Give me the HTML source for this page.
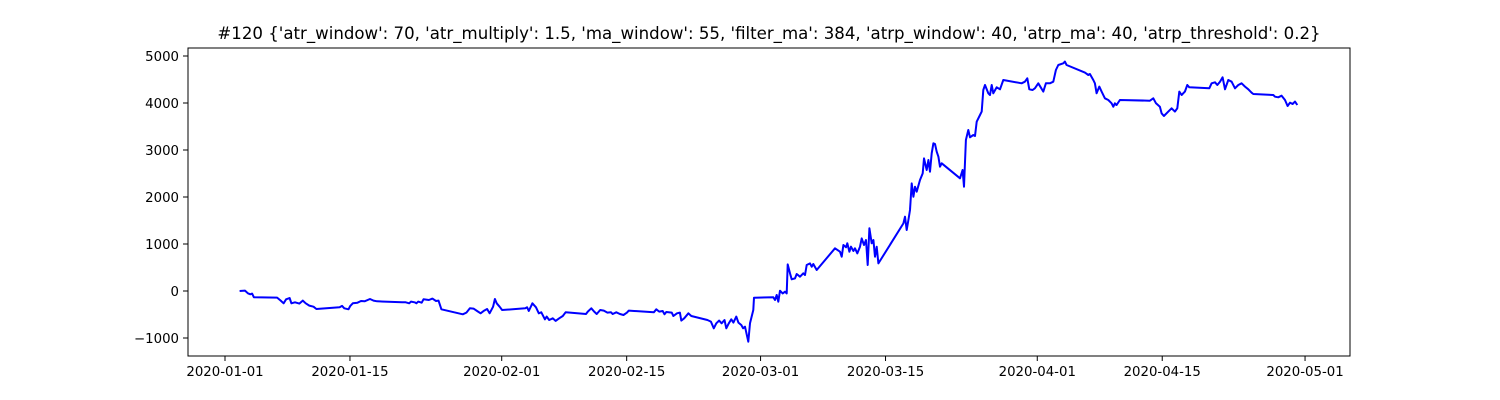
<!DOCTYPE html>
<html><head><meta charset="utf-8"><style>
html,body{margin:0;padding:0;background:#fff;}
svg{display:block;font-family:"DejaVu Sans","Liberation Sans",sans-serif;}
</style></head><body>
<svg id="chart" width="1500" height="400" viewBox="0 0 1500 400" xmlns="http://www.w3.org/2000/svg">
<rect x="0" y="0" width="1500" height="400" fill="#fff"/>
<text x="769" y="39" text-anchor="middle" font-size="16.6" fill="#000">#120 {'atr_window': 70, 'atr_multiply': 1.5, 'ma_window': 55, 'filter_ma': 384, 'atrp_window': 40, 'atrp_ma': 40, 'atrp_threshold': 0.2}</text>
<g id="plot"></g>
</svg>
<script>
const days = [1.64,2.24,2.56,2.84,3.04,3.24,5.84,6.24,6.56,6.84,7.24,7.44,7.84,8.32,8.72,9.04,9.44,9.92,10.24,12.84,13.12,13.36,13.84,14.04,14.32,14.84,15.24,15.64,16.24,16.64,17.04,19.84,20.24,20.64,20.84,21.24,21.44,21.64,22.04,22.24,22.84,23.24,23.64,23.92,24.24,26.64,27.04,27.44,27.84,28.24,28.64,29.04,29.36,29.64,30.04,30.24,30.44,30.76,31.04,33.64,33.84,34.04,34.44,34.84,35.16,35.44,35.84,36.04,36.32,36.72,37.04,37.44,37.84,38.16,40.44,40.64,41.04,41.36,41.64,42.04,42.44,42.84,43.24,43.44,43.84,44.24,44.64,45.04,45.24,48.04,48.32,48.64,49.04,49.24,49.44,50.04,50.24,50.64,50.96,51.12,51.44,51.92,52.24,54.04,54.44,54.76,55.04,55.36,55.64,55.96,56.16,56.44,56.72,56.96,57.28,57.52,57.84,58.04,58.26,58.63,58.82,59.19,59.27,61.43,61.62,61.81,61.99,62.18,62.48,62.74,62.93,63.04,63.30,63.49,63.86,64.05,64.42,64.79,64.98,65.17,65.54,65.73,65.91,66.29,68.34,68.90,69.09,69.28,69.57,69.72,69.95,70.13,70.40,70.58,70.84,71.14,71.33,71.59,71.81,72.00,72.19,72.45,72.64,72.82,73.01,73.20,76.00,76.18,76.37,76.56,76.74,76.93,77.12,77.30,77.49,77.86,78.16,78.31,78.61,78.80,78.98,79.17,79.36,79.54,79.73,79.92,80.10,80.29,82.34,82.64,82.79,83.01,83.27,83.46,83.83,84.02,84.21,84.58,84.77,84.95,85.14,85.51,85.70,85.89,86.07,86.45,86.82,87.19,89.25,89.62,89.88,90.11,90.48,90.74,91.12,91.38,91.68,91.97,92.42,92.80,93.09,93.36,93.92,94.10,94.29,96.34,96.72,96.90,97.28,97.46,97.65,97.95,98.21,98.58,98.96,99.33,99.52,99.70,99.89,100.26,103.62,104.00,104.30,104.74,104.93,105.19,105.68,106.05,106.42,106.69,106.91,107.17,107.54,107.81,108.03,110.27,110.53,110.91,111.17,111.47,111.76,112.03,112.40,112.77,113.15,113.52,113.89,114.27,114.64,115.01,115.20,117.44,117.63,118.00,118.37,118.75,119.05,119.31,119.61,119.87,120.13];
const values = [0,8,-49,-70,-56,-134,-141,-205,-262,-177,-148,-262,-240,-269,-205,-262,-311,-333,-382,-347,-318,-368,-389,-318,-262,-248,-212,-219,-170,-205,-219,-240,-240,-262,-226,-240,-262,-226,-248,-177,-191,-162,-212,-205,-389,-496,-460,-368,-375,-425,-474,-418,-382,-474,-333,-170,-262,-333,-404,-368,-347,-425,-262,-347,-474,-453,-602,-545,-616,-581,-637,-581,-531,-453,-489,-439,-368,-439,-489,-404,-418,-460,-453,-489,-453,-489,-510,-460,-418,-453,-389,-439,-425,-496,-446,-460,-531,-474,-460,-630,-581,-474,-531,-616,-652,-794,-687,-630,-687,-616,-794,-687,-602,-673,-545,-673,-723,-794,-759,-1078,-688,-404,-142,-135,-192,-85,-227,7,-50,-14,-50,567,376,248,269,361,305,376,340,553,588,517,574,447,908,837,730,979,929,1014,837,943,851,908,801,943,1120,979,1085,553,1333,1014,1085,730,943,588,1439,1581,1298,1510,1723,2290,2007,2219,2113,2361,2503,2822,2574,2787,2539,2929,3142,3127,2964,2858,2645,2716,2398,2575,2220,3213,3426,3270,3320,3298,3603,3745,3816,4277,4383,4206,4171,4383,4206,4334,4291,4490,4419,4454,4525,4291,4277,4312,4419,4334,4242,4419,4419,4454,4703,4809,4844,4880,4809,4646,4596,4617,4490,4419,4206,4348,4242,4100,4064,3993,3922,3993,3958,4064,4050,4100,3993,3922,3781,3724,3816,3887,3816,3887,4242,4171,4242,4383,4334,4312,4419,4440,4383,4454,4546,4291,4490,4454,4312,4383,4419,4348,4291,4220,4192,4171,4135,4121,4156,4064,3937,4007,3979,4029,3958];
const xTickDays = [0,14,31,45,60,74,91,105,121];
const xTickLabels = ["2020-01-01","2020-01-15","2020-02-01","2020-02-15","2020-03-01","2020-03-15","2020-04-01","2020-04-15","2020-05-01"];
const yTicks = [-1000,0,1000,2000,3000,4000,5000];

const L=188,R=1350,T=48,B=356;
const xScale = d => 225 + d*8.926;
const yScale = v => 291 - v*0.047;
const NS="http://www.w3.org/2000/svg";
const g=document.getElementById('plot');
function mk(tag,attrs){const e=document.createElementNS(NS,tag);for(const k in attrs)e.setAttribute(k,attrs[k]);return e;}

const frame=mk('rect',{x:L,y:T,width:R-L,height:B-T,fill:'none',stroke:'#000','stroke-width':1});


g.appendChild(frame);

xTickDays.forEach((d,i)=>{
  const x=xScale(d);
  const t=mk('line',{x1:x,x2:x,y1:B,y2:B+5,stroke:'#000'});
  
  
  g.appendChild(t);
  const lb=mk('text',{x:x,y:B+20,'text-anchor':'middle','font-size':13.3});
  
  
  lb.textContent=xTickLabels[i];
  g.appendChild(lb);
});
yTicks.forEach(v=>{
  const y=yScale(v);
  const t=mk('line',{x1:L-5,x2:L,y1:y,y2:y,stroke:'#000'});
  
  
  g.appendChild(t);
  const lb=mk('text',{x:L-9,y:y+5,'text-anchor':'end','font-size':13.3});
  
  
  lb.textContent=v<0?'\u2212'+Math.abs(v):String(v);
  g.appendChild(lb);
});
const pts=days.map((d,i)=>xScale(d).toFixed(1)+','+yScale(values[i]).toFixed(1)).join(' ');
const line=mk('polyline',{points:pts,fill:'none',stroke:'#0000ff','stroke-width':2,'stroke-linejoin':'round'});


g.appendChild(line);
</script>
</body></html>
